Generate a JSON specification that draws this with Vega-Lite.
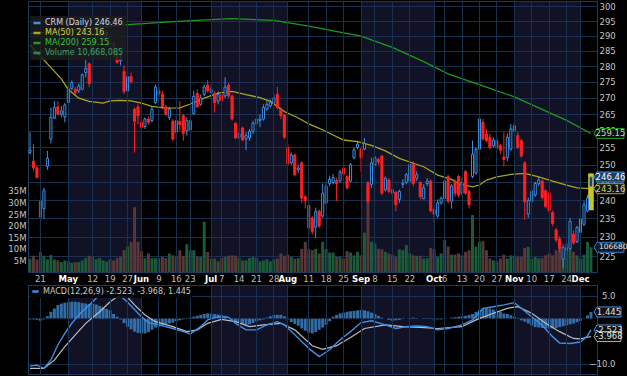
{
"$schema":"https://vega.github.io/schema/vega-lite/v6.json",
"background":"#000000",
"padding":{"left":7,"top":0,"right":0,"bottom":0},
"spacing":0,
"config":{
 "view":{"stroke":"#1d3b5a","strokeWidth":1},
 "font":"DejaVu Sans",
 "axis":{"labelColor":"#c4c4c4","labelFontSize":8.5,"labelFont":"DejaVu Sans","gridColor":"#17324e","gridWidth":1,"domain":false,"ticks":false,"title":null},
 "legend":{"title":null,"labelFont":"DejaVu Sans"}
},
"resolve":{"scale":{"x":"shared","color":"independent"},"legend":{"color":"independent"}},
"datasets":{
"months":[{"start":"2025-05-01","end":"2025-06-02"},{"start":"2025-07-01","end":"2025-08-01"},{"start":"2025-09-02","end":"2025-10-01"},{"start":"2025-11-03","end":"2025-12-01"}],
"ohlc":[
{"d":"2025-04-15","o":253.5,"h":259.5,"l":253,"c":254.2,"v":5.7,"hist":-0.2},
{"d":"2025-04-16","o":251,"h":256,"l":248.1,"c":249.1,"v":7.0,"hist":-0.2},
{"d":"2025-04-17","o":249.1,"h":249.6,"l":246.1,"c":246.3,"v":5.4,"hist":-0.3},
{"d":"2025-04-21","o":239.7,"h":241.9,"l":231.6,"c":235.3,"v":8.6,"hist":-0.5},
{"d":"2025-04-22","o":237.6,"h":243.4,"l":234.9,"c":242.6,"v":7.0,"hist":-0.2},
{"d":"2025-04-23","o":249.5,"h":254,"l":248.5,"c":251.8,"v":5.4,"hist":0.5},
{"d":"2025-04-24","o":257.5,"h":267,"l":256.2,"c":264,"v":7.3,"hist":1.5},
{"d":"2025-04-25","o":263.8,"h":269,"l":263.5,"c":267,"v":5.4,"hist":2.2},
{"d":"2025-04-28","o":267.2,"h":269,"l":264.5,"c":265,"v":5.0,"hist":3.0},
{"d":"2025-04-29","o":265,"h":267.5,"l":264,"c":266,"v":4.3,"hist":3.3},
{"d":"2025-04-30","o":264.2,"h":268.5,"l":262.5,"c":267.8,"v":5.0,"hist":3.5},
{"d":"2025-05-01","o":268.5,"h":273.7,"l":268,"c":273,"v":4.6,"hist":3.6},
{"d":"2025-05-02","o":273,"h":275.5,"l":272.4,"c":274.8,"v":4.0,"hist":3.7},
{"d":"2025-05-05","o":272.7,"h":273.4,"l":270.7,"c":271.7,"v":4.3,"hist":3.7},
{"d":"2025-05-06","o":272.2,"h":274.5,"l":271.5,"c":273.7,"v":4.3,"hist":3.6},
{"d":"2025-05-07","o":272.7,"h":277.7,"l":272.4,"c":277.3,"v":5.0,"hist":3.4},
{"d":"2025-05-08","o":278,"h":282.3,"l":276.5,"c":279.3,"v":6.0,"hist":3.3},
{"d":"2025-05-09","o":280.8,"h":281.3,"l":273.4,"c":274.5,"v":7.0,"hist":3.2},
{"d":"2025-05-12","o":284.1,"h":287.9,"l":281.9,"c":287.4,"v":6.5,"hist":3.2},
{"d":"2025-05-13","o":288.6,"h":291.8,"l":287.6,"c":290.6,"v":5.5,"hist":3.1},
{"d":"2025-05-14","o":292.3,"h":295.2,"l":289.8,"c":294,"v":6.0,"hist":2.8},
{"d":"2025-05-15","o":288.8,"h":291.6,"l":288.6,"c":290.6,"v":5.0,"hist":2.5},
{"d":"2025-05-16","o":290.6,"h":292.1,"l":289.6,"c":291.1,"v":4.5,"hist":2.1},
{"d":"2025-05-19","o":287.8,"h":288.6,"l":286.3,"c":287.1,"v":5.5,"hist":1.8},
{"d":"2025-05-20","o":287.4,"h":288.1,"l":283.1,"c":286.9,"v":5.0,"hist":1.0},
{"d":"2025-05-21","o":284.1,"h":285.1,"l":280.8,"c":281.3,"v":6.0,"hist":0.4},
{"d":"2025-05-22","o":281.8,"h":285.1,"l":280.3,"c":282.3,"v":6.5,"hist":-0.2},
{"d":"2025-05-23","o":278.3,"h":280.3,"l":271.2,"c":272,"v":9.4,"hist":-1.0},
{"d":"2025-05-27","o":272.2,"h":277.5,"l":271.7,"c":276.7,"v":11.0,"hist":-1.8},
{"d":"2025-05-28","o":276.7,"h":278,"l":274.5,"c":275,"v":13.0,"hist":-2.4},
{"d":"2025-05-29","o":266.5,"h":267,"l":253.5,"c":262.8,"v":28.0,"hist":-2.9},
{"d":"2025-05-30","o":267.2,"h":268,"l":262,"c":264.5,"v":13.0,"hist":-3.2},
{"d":"2025-06-02","o":262.5,"h":263.5,"l":258.2,"c":261,"v":9.0,"hist":-3.3},
{"d":"2025-06-03","o":261.2,"h":264,"l":260.5,"c":263.5,"v":6.0,"hist":-3.3},
{"d":"2025-06-04","o":263.5,"h":264.2,"l":261.8,"c":262.5,"v":8.0,"hist":-3.0},
{"d":"2025-06-05","o":263,"h":267.2,"l":262.5,"c":266.5,"v":6.0,"hist":-2.5},
{"d":"2025-06-06","o":268.5,"h":274.2,"l":268,"c":273.4,"v":6.0,"hist":-2.0},
{"d":"2025-06-09","o":272.2,"h":273.4,"l":270.2,"c":271.2,"v":6.0,"hist":-1.8},
{"d":"2025-06-10","o":271.2,"h":272.2,"l":266.5,"c":267.2,"v":6.5,"hist":-1.5},
{"d":"2025-06-11","o":267.2,"h":267.8,"l":264.5,"c":265,"v":6.0,"hist":-1.3},
{"d":"2025-06-12","o":264,"h":267.2,"l":263.2,"c":266.5,"v":8.0,"hist":-1.1},
{"d":"2025-06-13","o":262.8,"h":263.5,"l":257,"c":257.5,"v":7.2,"hist":-0.9},
{"d":"2025-06-16","o":259.5,"h":264.5,"l":259,"c":263,"v":6.5,"hist":-0.6},
{"d":"2025-06-17","o":262.8,"h":269,"l":260,"c":261.8,"v":9.4,"hist":-0.4},
{"d":"2025-06-18","o":264.5,"h":265,"l":257,"c":259.2,"v":7.0,"hist":-0.2},
{"d":"2025-06-20","o":260,"h":264,"l":258.5,"c":263,"v":12.0,"hist":-0.1},
{"d":"2025-06-23","o":260.2,"h":263.5,"l":259.8,"c":263,"v":9.4,"hist":0.2},
{"d":"2025-06-24","o":265.2,"h":272.3,"l":264.8,"c":270.5,"v":9.4,"hist":0.4},
{"d":"2025-06-25","o":271.4,"h":272.7,"l":267,"c":267.2,"v":6.5,"hist":0.6},
{"d":"2025-06-26","o":268,"h":271.1,"l":267.5,"c":270,"v":6.5,"hist":0.8},
{"d":"2025-06-27","o":271.1,"h":274.2,"l":270.5,"c":273.4,"v":21.7,"hist":1.0},
{"d":"2025-06-30","o":274,"h":275.6,"l":271.6,"c":272.2,"v":8.7,"hist":1.15},
{"d":"2025-07-01","o":271.7,"h":274.2,"l":270.6,"c":272.7,"v":5.8,"hist":1.1},
{"d":"2025-07-02","o":271.4,"h":272.2,"l":265.5,"c":268.5,"v":5.8,"hist":1.0},
{"d":"2025-07-03","o":269,"h":272,"l":268,"c":271.1,"v":4.6,"hist":0.9},
{"d":"2025-07-07","o":270.9,"h":271.8,"l":268.5,"c":269.2,"v":6.0,"hist":0.8},
{"d":"2025-07-08","o":270.6,"h":276.5,"l":270,"c":273.4,"v":6.5,"hist":0.6},
{"d":"2025-07-09","o":274,"h":274.7,"l":270,"c":270.6,"v":7.0,"hist":0.0},
{"d":"2025-07-10","o":270.6,"h":271.1,"l":263,"c":263.5,"v":7.2,"hist":-0.3},
{"d":"2025-07-11","o":262.2,"h":262.5,"l":257.5,"c":257.8,"v":7.0,"hist":-0.6},
{"d":"2025-07-14","o":258,"h":259.5,"l":257.5,"c":259,"v":6.0,"hist":-0.8},
{"d":"2025-07-15","o":260.8,"h":261.2,"l":257,"c":257.2,"v":5.0,"hist":-1.2},
{"d":"2025-07-16","o":257.5,"h":259.5,"l":254.2,"c":258.5,"v":5.0,"hist":-1.4},
{"d":"2025-07-17","o":257.8,"h":260.5,"l":257,"c":259.8,"v":6.0,"hist":-1.3},
{"d":"2025-07-18","o":259.8,"h":263,"l":259,"c":262.2,"v":6.5,"hist":-1.0},
{"d":"2025-07-21","o":263.5,"h":264.5,"l":261.5,"c":262,"v":6.0,"hist":-0.6},
{"d":"2025-07-22","o":263,"h":265,"l":261,"c":263.5,"v":4.6,"hist":-0.4},
{"d":"2025-07-23","o":263.5,"h":268,"l":263,"c":267,"v":5.0,"hist":-0.2},
{"d":"2025-07-24","o":266.5,"h":269,"l":266,"c":268,"v":5.5,"hist":0.2},
{"d":"2025-07-25","o":267.5,"h":269.5,"l":267,"c":268.5,"v":4.6,"hist":0.5},
{"d":"2025-07-28","o":268.5,"h":271,"l":268,"c":270,"v":5.5,"hist":0.8},
{"d":"2025-07-29","o":271.1,"h":273.4,"l":266.5,"c":267,"v":5.8,"hist":0.8},
{"d":"2025-07-30","o":266.5,"h":267,"l":263.5,"c":264.5,"v":8.0,"hist":0.8},
{"d":"2025-07-31","o":264.7,"h":265,"l":257.5,"c":258,"v":7.0,"hist":0.5},
{"d":"2025-08-01","o":255,"h":256,"l":250,"c":250.2,"v":7.5,"hist":-0.2},
{"d":"2025-08-04","o":250.5,"h":253.5,"l":250,"c":252.8,"v":6.5,"hist":-0.8},
{"d":"2025-08-05","o":252.8,"h":253.2,"l":246.6,"c":247.1,"v":5.8,"hist":-1.2},
{"d":"2025-08-06","o":248.5,"h":250,"l":247.6,"c":249,"v":6.0,"hist":-1.6},
{"d":"2025-08-07","o":250.5,"h":251,"l":239.2,"c":240.5,"v":10.0,"hist":-2.2},
{"d":"2025-08-08","o":240.9,"h":241.4,"l":237.7,"c":239.9,"v":13.0,"hist":-2.7},
{"d":"2025-08-11","o":238.5,"h":239,"l":230.7,"c":232.4,"v":10.0,"hist":-3.1},
{"d":"2025-08-12","o":235.1,"h":235.6,"l":230.7,"c":231.4,"v":9.4,"hist":-3.3},
{"d":"2025-08-13","o":232.6,"h":237.9,"l":229.7,"c":236.9,"v":10.0,"hist":-3.0},
{"d":"2025-08-14","o":236.9,"h":237.4,"l":232.4,"c":232.9,"v":8.0,"hist":-2.5},
{"d":"2025-08-15","o":235.6,"h":244.6,"l":235.1,"c":241.9,"v":13.0,"hist":-2.0},
{"d":"2025-08-18","o":239.2,"h":244.9,"l":238.7,"c":243.9,"v":10.0,"hist":-1.4},
{"d":"2025-08-19","o":244.6,"h":246.8,"l":243.9,"c":245.8,"v":8.4,"hist":-0.6},
{"d":"2025-08-20","o":244.9,"h":247.3,"l":244.4,"c":246.3,"v":8.4,"hist":0.4},
{"d":"2025-08-21","o":245.5,"h":246.3,"l":239.7,"c":244.6,"v":6.5,"hist":0.8},
{"d":"2025-08-22","o":245.3,"h":248.6,"l":244.9,"c":247.9,"v":6.5,"hist":1.15},
{"d":"2025-08-25","o":249,"h":249.5,"l":246.9,"c":247.3,"v":5.8,"hist":1.3},
{"d":"2025-08-26","o":246.6,"h":247.1,"l":242.9,"c":243.4,"v":9.0,"hist":1.5},
{"d":"2025-08-27","o":245.3,"h":250.5,"l":244.9,"c":250,"v":8.4,"hist":1.6},
{"d":"2025-08-28","o":252,"h":255,"l":251.5,"c":254.3,"v":7.2,"hist":1.7},
{"d":"2025-08-29","o":255,"h":257,"l":254.5,"c":256,"v":8.7,"hist":1.8},
{"d":"2025-09-02","o":254.5,"h":255,"l":248,"c":252,"v":7.2,"hist":1.9},
{"d":"2025-09-03","o":254.5,"h":257.8,"l":254.2,"c":256.2,"v":17.0,"hist":1.8},
{"d":"2025-09-04","o":244.8,"h":245.3,"l":239.2,"c":239.7,"v":36.0,"hist":1.6},
{"d":"2025-09-05","o":244.4,"h":252,"l":243.4,"c":250.5,"v":13.0,"hist":1.3},
{"d":"2025-09-08","o":250,"h":252.5,"l":249.5,"c":252,"v":12.3,"hist":1.0},
{"d":"2025-09-09","o":251.5,"h":252,"l":250,"c":250.8,"v":10.0,"hist":0.6},
{"d":"2025-09-10","o":252.5,"h":252.8,"l":241.4,"c":241.9,"v":9.8,"hist":0.2},
{"d":"2025-09-11","o":242.9,"h":246.6,"l":242.4,"c":246.1,"v":8.7,"hist":0.0},
{"d":"2025-09-12","o":245.6,"h":246.1,"l":241.9,"c":242.4,"v":8.0,"hist":-0.3},
{"d":"2025-09-15","o":242.9,"h":243.4,"l":241.4,"c":241.9,"v":7.5,"hist":-0.5},
{"d":"2025-09-16","o":242.2,"h":242.4,"l":236.9,"c":238.7,"v":6.5,"hist":-0.4},
{"d":"2025-09-17","o":240.2,"h":242.9,"l":239.2,"c":242.4,"v":9.8,"hist":-0.3},
{"d":"2025-09-18","o":244.4,"h":245.8,"l":243.4,"c":244.6,"v":9.4,"hist":-0.1},
{"d":"2025-09-19","o":244.9,"h":247.6,"l":244.4,"c":247.1,"v":11.6,"hist":0.0},
{"d":"2025-09-22","o":245.3,"h":251,"l":244.9,"c":250,"v":8.0,"hist":0.1},
{"d":"2025-09-23","o":250,"h":251,"l":243.9,"c":244.6,"v":7.2,"hist":0.2},
{"d":"2025-09-24","o":246.1,"h":248.1,"l":245.3,"c":247.1,"v":7.0,"hist":0.1},
{"d":"2025-09-25","o":244.9,"h":245.3,"l":240.2,"c":240.9,"v":7.0,"hist":0.0},
{"d":"2025-09-26","o":240.4,"h":244.4,"l":240.2,"c":243.4,"v":5.8,"hist":0.1},
{"d":"2025-09-29","o":244.6,"h":246.1,"l":243.9,"c":245.3,"v":6.0,"hist":0.1},
{"d":"2025-09-30","o":245.3,"h":245.8,"l":236.6,"c":237.1,"v":10.4,"hist":-0.1},
{"d":"2025-10-01","o":237.4,"h":237.9,"l":233.9,"c":236.1,"v":9.8,"hist":-0.2},
{"d":"2025-10-02","o":235.6,"h":240.2,"l":235.1,"c":239.2,"v":6.5,"hist":-0.2},
{"d":"2025-10-03","o":239.2,"h":241,"l":238.7,"c":240.5,"v":8.0,"hist":-0.2},
{"d":"2025-10-06","o":240.4,"h":246.1,"l":240.2,"c":245.3,"v":13.8,"hist":-0.1},
{"d":"2025-10-07","o":246.6,"h":247.1,"l":239.2,"c":239.7,"v":11.0,"hist":0.0},
{"d":"2025-10-08","o":239.7,"h":244.4,"l":237.6,"c":243.9,"v":7.5,"hist":0.2},
{"d":"2025-10-09","o":245.3,"h":245.8,"l":240.9,"c":241.9,"v":7.5,"hist":0.3},
{"d":"2025-10-10","o":246.6,"h":247.1,"l":240.7,"c":241.4,"v":8.0,"hist":0.4},
{"d":"2025-10-13","o":241.9,"h":246.1,"l":241.4,"c":244.9,"v":7.2,"hist":0.5},
{"d":"2025-10-14","o":248,"h":248.5,"l":241.4,"c":241.9,"v":8.7,"hist":0.6},
{"d":"2025-10-15","o":242.4,"h":242.9,"l":237.7,"c":238.7,"v":9.4,"hist":0.8},
{"d":"2025-10-16","o":246.6,"h":257,"l":246.1,"c":253,"v":24.6,"hist":1.0},
{"d":"2025-10-17","o":247.6,"h":255,"l":247.1,"c":254.5,"v":10.9,"hist":1.5},
{"d":"2025-10-20","o":254.5,"h":267,"l":254,"c":263.5,"v":13.0,"hist":1.9},
{"d":"2025-10-21","o":262.5,"h":263.5,"l":257,"c":257.5,"v":13.3,"hist":2.2},
{"d":"2025-10-22","o":259,"h":260.5,"l":256.5,"c":257,"v":9.4,"hist":2.3},
{"d":"2025-10-23","o":258,"h":259,"l":254.5,"c":255,"v":5.8,"hist":2.2},
{"d":"2025-10-24","o":255.5,"h":258,"l":255,"c":257.2,"v":5.0,"hist":2.0},
{"d":"2025-10-27","o":257,"h":258,"l":254.5,"c":255,"v":4.6,"hist":1.7},
{"d":"2025-10-28","o":255.5,"h":256,"l":253,"c":254.2,"v":5.8,"hist":1.5},
{"d":"2025-10-29","o":252.2,"h":259.5,"l":249.5,"c":251.5,"v":7.5,"hist":1.1},
{"d":"2025-10-30","o":252,"h":259.2,"l":251,"c":258,"v":5.8,"hist":1.0},
{"d":"2025-10-31","o":254.5,"h":262,"l":254,"c":260.5,"v":7.2,"hist":0.7},
{"d":"2025-11-03","o":260,"h":262.5,"l":259,"c":261.5,"v":7.0,"hist":0.4},
{"d":"2025-11-04","o":258.5,"h":259.5,"l":254.5,"c":255,"v":6.5,"hist":0.1},
{"d":"2025-11-05","o":257,"h":257.5,"l":252,"c":252.5,"v":6.5,"hist":-0.4},
{"d":"2025-11-06","o":250.5,"h":251,"l":234.6,"c":239.5,"v":10.4,"hist":-0.7},
{"d":"2025-11-07","o":236.1,"h":240.7,"l":235.1,"c":239.9,"v":10.9,"hist":-1.1},
{"d":"2025-11-10","o":239.7,"h":242.9,"l":239.2,"c":242.4,"v":5.8,"hist":-1.5},
{"d":"2025-11-11","o":241.4,"h":245.1,"l":240.9,"c":244.6,"v":6.5,"hist":-1.9},
{"d":"2025-11-12","o":244.6,"h":246.6,"l":243.9,"c":245.6,"v":5.8,"hist":-2.0},
{"d":"2025-11-13","o":245.3,"h":245.8,"l":240.2,"c":240.7,"v":6.0,"hist":-2.1},
{"d":"2025-11-14","o":242.6,"h":242.9,"l":237.7,"c":238.2,"v":7.2,"hist":-2.2},
{"d":"2025-11-17","o":241.9,"h":242.4,"l":236.6,"c":237.1,"v":8.0,"hist":-2.2},
{"d":"2025-11-18","o":236.6,"h":237.1,"l":232.9,"c":233.6,"v":7.2,"hist":-2.2},
{"d":"2025-11-19","o":231.9,"h":232.4,"l":228.7,"c":229.2,"v":9.4,"hist":-2.1},
{"d":"2025-11-20","o":229.5,"h":230.2,"l":226,"c":227,"v":10.4,"hist":-1.9},
{"d":"2025-11-21","o":224.2,"h":228,"l":222,"c":227.2,"v":8.0,"hist":-1.7},
{"d":"2025-11-24","o":227.2,"h":228,"l":225.5,"c":226.5,"v":12.3,"hist":-1.5},
{"d":"2025-11-25","o":227,"h":235.1,"l":226.5,"c":234.2,"v":9.8,"hist":-1.3},
{"d":"2025-11-26","o":230.7,"h":231.7,"l":228,"c":228.5,"v":8.7,"hist":-1.1},
{"d":"2025-11-28","o":228.8,"h":233,"l":228.4,"c":232.5,"v":7.2,"hist":-0.8},
{"d":"2025-12-01","o":231.2,"h":235.2,"l":230.7,"c":234.8,"v":5.8,"hist":-0.5},
{"d":"2025-12-02","o":233.4,"h":239.7,"l":232.9,"c":238.7,"v":7.5,"hist":0.1},
{"d":"2025-12-03","o":237,"h":241.5,"l":236.6,"c":240.5,"v":13.0,"hist":0.7},
{"d":"2025-12-04","o":243.8,"h":247.5,"l":242.5,"c":246.46,"v":10.67,"hist":1.445}
],
"ma50":[{"d":"2025-04-15","v":287.0},{"d":"2025-04-29","v":276.0},{"d":"2025-05-01","v":272.6},{"d":"2025-05-06","v":269.9},{"d":"2025-05-09","v":268.9},{"d":"2025-05-15","v":268.4},{"d":"2025-05-19","v":269.1},{"d":"2025-05-22","v":269.2},{"d":"2025-05-28","v":269.1},{"d":"2025-06-02","v":268.4},{"d":"2025-06-05","v":267.4},{"d":"2025-06-11","v":266.8},{"d":"2025-06-17","v":266.9},{"d":"2025-06-23","v":268.1},{"d":"2025-06-27","v":269.9},{"d":"2025-07-03","v":271.5},{"d":"2025-07-10","v":272.0},{"d":"2025-07-16","v":271.0},{"d":"2025-07-22","v":270.1},{"d":"2025-07-25","v":268.9},{"d":"2025-07-31","v":265.8},{"d":"2025-08-06","v":263.8},{"d":"2025-08-11","v":262.0},{"d":"2025-08-14","v":260.7},{"d":"2025-08-20","v":258.7},{"d":"2025-08-25","v":257.2},{"d":"2025-08-29","v":256.7},{"d":"2025-09-05","v":255.6},{"d":"2025-09-11","v":254.0},{"d":"2025-09-17","v":251.8},{"d":"2025-09-23","v":250.4},{"d":"2025-09-26","v":249.4},{"d":"2025-10-02","v":247.0},{"d":"2025-10-08","v":245.8},{"d":"2025-10-10","v":244.6},{"d":"2025-10-16","v":243.7},{"d":"2025-10-20","v":244.2},{"d":"2025-10-22","v":245.6},{"d":"2025-10-27","v":246.5},{"d":"2025-10-31","v":247.2},{"d":"2025-11-06","v":247.5},{"d":"2025-11-12","v":246.5},{"d":"2025-11-18","v":245.3},{"d":"2025-11-24","v":244.2},{"d":"2025-11-28","v":243.4},{"d":"2025-12-04","v":243.16}],
"ma200":[{"d":"2025-04-15","v":290.8},{"d":"2025-04-28","v":291.6},{"d":"2025-05-09","v":292.5},{"d":"2025-05-22","v":293.6},{"d":"2025-06-12","v":294.7},{"d":"2025-06-26","v":295.3},{"d":"2025-07-10","v":295.8},{"d":"2025-07-28","v":295.2},{"d":"2025-08-11","v":293.3},{"d":"2025-08-25","v":291.0},{"d":"2025-09-02","v":289.9},{"d":"2025-09-15","v":286.2},{"d":"2025-09-26","v":281.5},{"d":"2025-10-07","v":277.6},{"d":"2025-10-22","v":273.4},{"d":"2025-11-03","v":270.3},{"d":"2025-11-24","v":263.1},{"d":"2025-12-04","v":259.15}],
"macd":[{"d":"2025-04-15","v":-10.5},{"d":"2025-04-17","v":-10.3},{"d":"2025-04-22","v":-11.0},{"d":"2025-04-24","v":-9.15},{"d":"2025-04-28","v":-5.84},{"d":"2025-04-30","v":-3.27},{"d":"2025-05-02","v":-1.06},{"d":"2025-05-06","v":0.78},{"d":"2025-05-08","v":2.25},{"d":"2025-05-12","v":3.72},{"d":"2025-05-14","v":5.3},{"d":"2025-05-16","v":6.2},{"d":"2025-05-20","v":6.3},{"d":"2025-05-22","v":5.0},{"d":"2025-05-27","v":3.6},{"d":"2025-05-29","v":2.0},{"d":"2025-06-02","v":0.4},{"d":"2025-06-04","v":-0.9},{"d":"2025-06-09","v":-1.4},{"d":"2025-06-13","v":-2.2},{"d":"2025-06-18","v":-2.9},{"d":"2025-06-23","v":-3.4},{"d":"2025-06-26","v":-1.8},{"d":"2025-06-30","v":-0.3},{"d":"2025-07-03","v":0.4},{"d":"2025-07-09","v":0.26},{"d":"2025-07-11","v":-1.06},{"d":"2025-07-16","v":-2.5},{"d":"2025-07-21","v":-2.5},{"d":"2025-07-24","v":-1.4},{"d":"2025-07-29","v":-0.7},{"d":"2025-07-31","v":-1.4},{"d":"2025-08-05","v":-3.6},{"d":"2025-08-11","v":-6.6},{"d":"2025-08-14","v":-8.4},{"d":"2025-08-19","v":-6.9},{"d":"2025-08-22","v":-4.7},{"d":"2025-08-27","v":-2.9},{"d":"2025-09-02","v":-0.9},{"d":"2025-09-05","v":-0.5},{"d":"2025-09-11","v":-1.4},{"d":"2025-09-16","v":-2.2},{"d":"2025-09-19","v":-1.8},{"d":"2025-09-24","v":-1.65},{"d":"2025-09-29","v":-1.8},{"d":"2025-10-02","v":-2.5},{"d":"2025-10-07","v":-2.2},{"d":"2025-10-13","v":-1.4},{"d":"2025-10-16","v":-0.3},{"d":"2025-10-21","v":2.25},{"d":"2025-10-24","v":2.6},{"d":"2025-10-29","v":3.0},{"d":"2025-11-03","v":3.5},{"d":"2025-11-05","v":2.25},{"d":"2025-11-10","v":0.4},{"d":"2025-11-13","v":-1.5},{"d":"2025-11-18","v":-4.0},{"d":"2025-11-20","v":-5.4},{"d":"2025-11-25","v":-5.5},{"d":"2025-12-01","v":-5.2},{"d":"2025-12-03","v":-3.8},{"d":"2025-12-04","v":-2.523}],
"sig":[{"d":"2025-04-15","v":-11.0},{"d":"2025-04-22","v":-11.0},{"d":"2025-04-25","v":-9.2},{"d":"2025-04-30","v":-6.2},{"d":"2025-05-05","v":-3.6},{"d":"2025-05-08","v":-1.06},{"d":"2025-05-14","v":1.5},{"d":"2025-05-19","v":3.7},{"d":"2025-05-21","v":4.8},{"d":"2025-05-27","v":4.7},{"d":"2025-05-29","v":3.0},{"d":"2025-06-03","v":0.78},{"d":"2025-06-06","v":-0.7},{"d":"2025-06-13","v":-1.8},{"d":"2025-06-20","v":-2.9},{"d":"2025-06-25","v":-2.5},{"d":"2025-06-30","v":-1.06},{"d":"2025-07-07","v":-0.2},{"d":"2025-07-11","v":-0.7},{"d":"2025-07-17","v":-1.8},{"d":"2025-07-23","v":-1.4},{"d":"2025-07-30","v":-1.06},{"d":"2025-08-05","v":-2.5},{"d":"2025-08-12","v":-6.0},{"d":"2025-08-15","v":-6.8},{"d":"2025-08-21","v":-6.0},{"d":"2025-08-27","v":-4.2},{"d":"2025-09-03","v":-2.2},{"d":"2025-09-11","v":-1.4},{"d":"2025-09-18","v":-1.8},{"d":"2025-09-25","v":-1.95},{"d":"2025-10-02","v":-2.2},{"d":"2025-10-13","v":-1.8},{"d":"2025-10-17","v":-0.3},{"d":"2025-10-24","v":1.15},{"d":"2025-10-30","v":2.25},{"d":"2025-11-04","v":2.6},{"d":"2025-11-10","v":1.15},{"d":"2025-11-14","v":-1.06},{"d":"2025-11-20","v":-2.9},{"d":"2025-11-26","v":-4.4},{"d":"2025-12-01","v":-4.5},{"d":"2025-12-04","v":-3.968}],
"hl":[{"d":"2025-12-04","lo":237.2,"hi":247.5}],
"tags":[{"d":"2025-12-04","val":259.15,"lab":"259.15","s":"ma200"},{"d":"2025-12-04","val":246.46,"lab":"246.46","s":"close"},{"d":"2025-12-04","val":243.16,"lab":"243.16","s":"ma50"}],
"vtag":[{"d":"2025-12-04","v":10.67,"lab":"10668085"}],
"mtags":[{"d":"2025-12-04","val":1.445,"lab":"1.445","s":"hist"},{"d":"2025-12-04","val":-2.523,"lab":"-2.523","s":"macd"},{"d":"2025-12-04","val":-3.968,"lab":"-3.968","s":"sig"}]
},
"vconcat":[
{
 "width":569,"height":271,
 "resolve":{"scale":{"y":"independent"},"axis":{"y":"independent"}},
 "layer":[
  {"data":{"name":"months"},"mark":{"type":"rect","fill":"#2a2a5c","opacity":0.42},
   "encoding":{
    "x":{"field":"start","type":"ordinal","scale":{"paddingInner":0.15,"paddingOuter":0.725,"align":0.1},
     "axis":{"values":["2025-04-21","2025-05-01","2025-05-12","2025-05-19","2025-05-27","2025-06-02","2025-06-09","2025-06-16","2025-06-23","2025-07-01","2025-07-07","2025-07-14","2025-07-21","2025-07-28","2025-08-01","2025-08-11","2025-08-18","2025-08-25","2025-09-02","2025-09-08","2025-09-15","2025-09-22","2025-10-01","2025-10-06","2025-10-13","2025-10-20","2025-10-27","2025-11-03","2025-11-10","2025-11-17","2025-11-24","2025-12-01"],
      "labelExpr":"indexof(['2025-05-01','2025-06-02','2025-07-01','2025-08-01','2025-09-02','2025-10-01','2025-11-03','2025-12-01'], datum.value) >= 0 ? utcFormat(toDate(datum.value), '%b') : '' + toNumber(substring(datum.value, 8, 10))",
      "labelColor":{"condition":{"test":"indexof(['2025-05-01','2025-06-02','2025-07-01','2025-08-01','2025-09-02','2025-10-01','2025-11-03','2025-12-01'], datum.value) >= 0","value":"#ffffff"},"value":"#bdbdbd"},
      "labelFontWeight":{"condition":{"test":"indexof(['2025-05-01','2025-06-02','2025-07-01','2025-08-01','2025-09-02','2025-10-01','2025-11-03','2025-12-01'], datum.value) >= 0","value":"bold"},"value":"normal"},
      "labelAngle":0,"labelPadding":2,"labelOverlap":false,"labelFontSize":8.5,"grid":true,"bandPosition":0.5,"minExtent":11,"maxExtent":11}},
    "x2":{"field":"end"}}},
  {"layer":[
    {"data":{"name":"ohlc"},"mark":{"type":"bar","width":{"band":1}},
     "encoding":{"x":{"field":"d","type":"ordinal"},
      "y":{"field":"v","type":"quantitative","scale":{"domain":[0,117],"nice":false},
       "axis":{"orient":"left","values":[5,10,15,20,25,30,35],"labelExpr":"datum.value + 'M'","grid":false,"labelPadding":2}},
      "color":{"condition":{"test":"datum.c < datum.o","value":"#5a3737"},"value":"#1b5a3a"}}},
    {"data":{"name":"vtag"},"mark":{"type":"point","shape":"M-0.3,0L0,-0.5L2.7,-0.5L2.7,0.5L0,0.5Z","size":400,"filled":true,"fill":"#0d1a2a","stroke":"#3d7fc0","strokeWidth":1,"xOffset":6,"opacity":1},
     "encoding":{"x":{"field":"d","type":"ordinal"},"y":{"field":"v","type":"quantitative"}}},
    {"data":{"name":"vtag"},"mark":{"type":"text","fontSize":7.5,"dx":8,"align":"left","baseline":"middle","fill":"#e8e8e8"},
     "encoding":{"x":{"field":"d","type":"ordinal"},"y":{"field":"v","type":"quantitative"},"text":{"field":"lab"}}}
  ]},
  {"layer":[
    {"data":{"name":"ohlc"},"mark":{"type":"rule","strokeWidth":1},
     "encoding":{"x":{"field":"d","type":"ordinal"},
      "y":{"field":"l","type":"quantitative","scale":{"type":"log","domain":[220.9,301.9],"nice":false,"zero":false},
       "axis":{"orient":"right","values":[225,230,235,240,245,250,255,260,265,270,275,280,285,290,295,300],"format":"d","grid":true,"labelPadding":2}},
      "y2":{"field":"h"},
      "color":{"condition":{"test":"datum.c < datum.o","value":"#ff2020"},"value":"#3d8fe6"}}},
    {"data":{"name":"ma200"},"mark":{"type":"line","strokeWidth":1.3},
     "encoding":{"x":{"field":"d","type":"ordinal"},"y":{"field":"v","type":"quantitative"},
      "color":{"datum":"MA(200) 259.15","type":"nominal",
       "scale":{"domain":["CRM (Daily) 246.46","MA(50) 243.16","MA(200) 259.15","Volume 10,668,085"],"range":["#3d8fe6","#a9a51e","#1f9a1f","#2a8a55"]},
       "legend":{"orient":"none","legendX":2,"legendY":15,"symbolType":"stroke","symbolStrokeWidth":2.5,"symbolSize":50,"labelFontSize":8,"rowPadding":0,"padding":2,"fillColor":"#1e1e1ed0","zindex":1,"labelLimit":200,"labelOffset":3,
        "encode":{"labels":{"update":{"fill":{"signal":"datum.index === 0 ? '#d3d9e0' : datum.index === 1 ? '#d6d24c' : datum.index === 2 ? '#3fc03f' : '#3aa46c'"}}}}}}}},
    {"data":{"name":"ma50"},"mark":{"type":"line","strokeWidth":1.3},
     "encoding":{"x":{"field":"d","type":"ordinal"},"y":{"field":"v","type":"quantitative"},
      "color":{"datum":"MA(50) 243.16","type":"nominal"}}},
    {"data":{"name":"hl"},"mark":{"type":"bar","width":{"band":1.9},"fill":"#c9c22a"},
     "encoding":{"x":{"field":"d","type":"ordinal"},"y":{"field":"lo","type":"quantitative"},"y2":{"field":"hi"}}},
    {"data":{"name":"ohlc"},"mark":{"type":"bar","width":{"band":0.7},"strokeWidth":1},
     "encoding":{"x":{"field":"d","type":"ordinal"},"y":{"field":"o","type":"quantitative"},"y2":{"field":"c"},
      "fill":{"condition":{"test":"datum.c < datum.o","value":"#ff2020"},"value":"#000000"},
      "stroke":{"condition":{"test":"datum.c < datum.o","value":"#ff2020"},"value":"#3d8fe6"}}},
    {"data":{"name":"tags"},"mark":{"type":"point","shape":"M-0.3,0L0,-0.5L2.7,-0.5L2.7,0.5L0,0.5Z","size":400,"filled":true,"strokeWidth":1,"xOffset":6,"opacity":1},
     "encoding":{"x":{"field":"d","type":"ordinal"},"y":{"field":"val","type":"quantitative"},
      "fill":{"condition":[{"test":"datum.s == 'close'","value":"#1b3b63"}],"value":"#101010"},
      "stroke":{"condition":[{"test":"datum.s == 'ma200'","value":"#1f9a1f"},{"test":"datum.s == 'ma50'","value":"#b0aa20"}],"value":"#4a90e0"}}},
    {"data":{"name":"tags"},"mark":{"type":"text","fontSize":8.5,"dx":19.5,"align":"center","baseline":"middle"},
     "encoding":{"x":{"field":"d","type":"ordinal"},"y":{"field":"val","type":"quantitative"},"text":{"field":"lab"},
      "fill":{"condition":[{"test":"datum.s == 'ma200'","value":"#bcd8bc"},{"test":"datum.s == 'ma50'","value":"#d6d27a"}],"value":"#ffffff"}}}
  ]}
 ]
},
{
 "width":569,"height":89,
 "layer":[
  {"data":{"name":"months"},"mark":{"type":"rect","fill":"#2a2a5c","opacity":0.42},
   "encoding":{
    "x":{"field":"start","type":"ordinal","scale":{"paddingInner":0.15,"paddingOuter":0.725,"align":0.1},
     "axis":{"values":["2025-04-21","2025-05-01","2025-05-12","2025-05-19","2025-05-27","2025-06-02","2025-06-09","2025-06-16","2025-06-23","2025-07-01","2025-07-07","2025-07-14","2025-07-21","2025-07-28","2025-08-01","2025-08-11","2025-08-18","2025-08-25","2025-09-02","2025-09-08","2025-09-15","2025-09-22","2025-10-01","2025-10-06","2025-10-13","2025-10-20","2025-10-27","2025-11-03","2025-11-10","2025-11-17","2025-11-24","2025-12-01"],"labels":false,"grid":true,"bandPosition":0.5,"minExtent":0,"maxExtent":0}},
    "x2":{"field":"end"}}},
  {"data":{"name":"ohlc"},"mark":{"type":"bar","width":{"band":1},"fill":"#3a7fc2","opacity":0.85},
   "encoding":{"x":{"field":"d","type":"ordinal"},
    "y":{"field":"hist","type":"quantitative","scale":{"domain":[-12.25,7.4],"nice":false,"zero":false},
     "axis":{"orient":"right","values":[-10,-7.5,-5,-2.5,0,2.5,5],"format":".1f","grid":true,"labelAlign":"right","labelPadding":18}},
    "y2":{"datum":0}}},
  {"data":{"name":"sig"},"mark":{"type":"line","strokeWidth":1.2,"stroke":"#bdbdbd"},
   "encoding":{"x":{"field":"d","type":"ordinal"},"y":{"field":"v","type":"quantitative"}}},
  {"data":{"name":"macd"},"mark":{"type":"line","strokeWidth":1.4},
   "encoding":{"x":{"field":"d","type":"ordinal"},"y":{"field":"v","type":"quantitative"},
    "color":{"datum":"MACD(12,26,9) -2.523, -3.968, 1.445","type":"nominal","scale":{"range":["#3d8fe6"]},
     "legend":{"orient":"none","legendX":2,"legendY":1,"symbolType":"stroke","symbolStrokeWidth":2.5,"symbolSize":40,"labelFontSize":8,"labelColor":"#c8c8c8","padding":1,"fillColor":"#000000d8","zindex":1,"labelLimit":300,"labelOffset":3}}}},
  {"data":{"name":"mtags"},"mark":{"type":"point","shape":"M-0.3,0L0,-0.5L2.4,-0.5L2.4,0.5L0,0.5Z","size":400,"filled":true,"strokeWidth":1,"xOffset":6,"opacity":1,"fill":"#101010"},
   "encoding":{"x":{"field":"d","type":"ordinal"},"y":{"field":"val","type":"quantitative"},
    "stroke":{"condition":[{"test":"datum.s == 'sig'","value":"#a8a8a8"}],"value":"#4a90e0"}}},
  {"data":{"name":"mtags"},"mark":{"type":"text","fontSize":8.5,"dx":18,"align":"center","baseline":"middle","fill":"#e0e0e0"},
   "encoding":{"x":{"field":"d","type":"ordinal"},"y":{"field":"val","type":"quantitative"},"text":{"field":"lab"}}}
 ]
},
{
 "width":569,"height":40,
 "data":{"values":[{"k":"Wm%R(14) -3.12","y":-50}]},
 "mark":{"type":"rule","strokeWidth":1},
 "encoding":{"y":{"field":"y","type":"quantitative","axis":null,"scale":{"domain":[-100,0]}},
  "color":{"field":"k","type":"nominal","scale":{"range":["#3d8fe6"]},
   "legend":{"orient":"none","legendX":2,"legendY":1,"symbolType":"stroke","symbolStrokeWidth":2.5,"symbolSize":40,"labelFontSize":8,"labelColor":"#c8c8c8","padding":1,"zindex":1}}}
}
]
}
